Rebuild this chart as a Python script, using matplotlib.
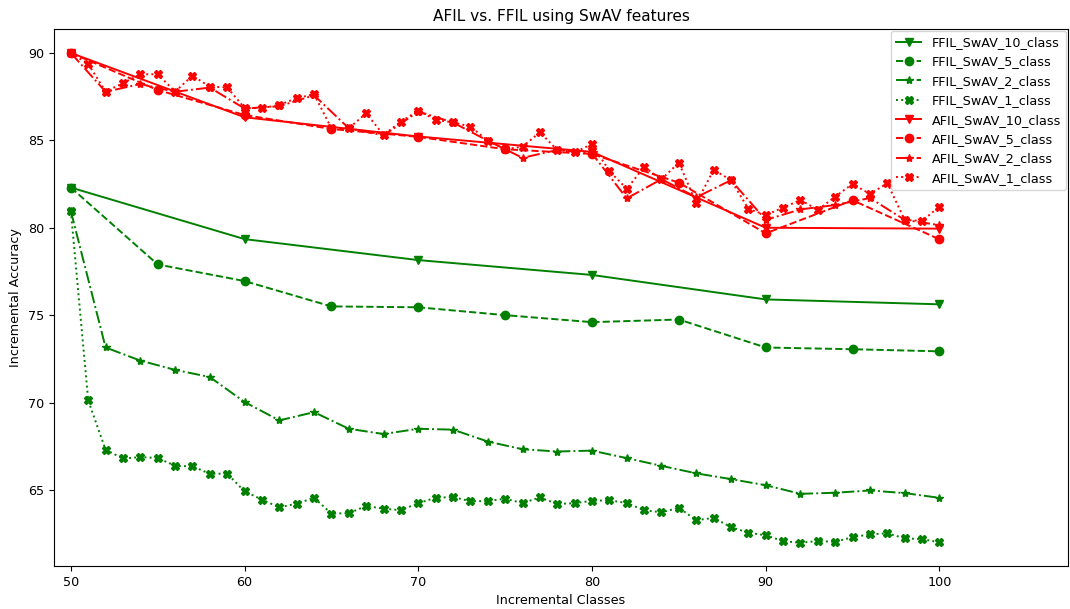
import numpy as np
import matplotlib
matplotlib.use("Agg")
import matplotlib.pyplot as plt

x10 = [50, 60, 70, 80, 90, 100]
x5 = [50, 55, 60, 65, 70, 75, 80, 85, 90, 95, 100]
x2 = list(range(50, 101, 2))
x1 = list(range(50, 101, 1))

ffil_10 = [82.3, 79.35, 78.15, 77.3, 75.9, 75.62]
ffil_5 = [82.3, 77.9, 76.95, 75.5, 75.45, 75.0, 74.6, 74.75, 73.15, 73.05, 72.93]
ffil_2 = [80.95, 73.15, 72.4, 71.87, 71.46, 70.03, 68.98, 69.45, 68.5, 68.2, 68.5, 68.45,
          67.77, 67.33, 67.2, 67.25, 66.82, 66.38, 65.95, 65.62, 65.27, 64.78, 64.84,
          64.97, 64.82, 64.55]
ffil_1 = [80.95, 70.12, 67.3, 66.8, 66.88, 66.83, 66.38, 66.35, 65.93, 65.93, 64.92,
          64.45, 64.0, 64.22, 64.55, 63.65, 63.67, 64.08, 63.93, 63.84, 64.25, 64.55,
          64.6, 64.35, 64.37, 64.5, 64.25, 64.57, 64.2, 64.24, 64.38, 64.41, 64.25,
          63.84, 63.72, 63.98, 63.27, 63.4, 62.88, 62.55, 62.41, 62.07, 61.98, 62.08,
          62.03, 62.3, 62.46, 62.52, 62.23, 62.19, 62.0]

afil_10 = [90.0, 86.32, 85.22, 84.34, 80.0, 79.95]
afil_5 = [90.0, 87.88, 86.45, 85.65, 85.2, 84.49, 84.22, 82.58, 79.68, 81.57, 79.34]
afil_2 = [90.0, 87.78, 88.22, 87.78, 88.02, 86.82, 86.95, 87.58, 85.69, 85.28, 86.65,
          86.02, 84.98, 84.0, 84.45, 84.25, 81.68, 82.78, 81.74, 82.72, 80.45, 81.05,
          81.3, 81.7, 80.45, 80.15]
afil_1 = [90.0, 89.37, 87.79, 88.27, 88.78, 88.78, 87.79, 88.7, 88.07, 88.03, 86.85,
          86.84, 87.03, 87.41, 87.64, 85.69, 85.69, 86.55, 85.31, 86.07, 86.7, 86.17,
          86.03, 85.79, 84.98, 84.49, 84.64, 85.46, 84.45, 84.32, 84.78, 83.25, 82.22,
          83.48, 82.77, 83.73, 81.4, 83.31, 82.73, 81.08, 80.73, 81.15, 81.59, 81.02,
          81.78, 82.51, 81.93, 82.55, 80.45, 80.39, 81.21]

labels = ["FFIL_SwAV_10_class", "FFIL_SwAV_5_class", "FFIL_SwAV_2_class", "FFIL_SwAV_1_class",
          "AFIL_SwAV_10_class", "AFIL_SwAV_5_class", "AFIL_SwAV_2_class", "AFIL_SwAV_1_class"]

plt.rcParams["font.size"] = 9.2

fig = plt.figure(figsize=(10.70, 6.09), dpi=100)
ax = fig.add_axes([54/1070, 1-566/609, (1068-54)/1070, (566-29)/609])

series = [
    (x10, ffil_10, "green", "-", "v", 6),
    (x5, ffil_5, "green", "--", "o", 6),
    (x2, ffil_2, "green", "-.", "*", 6),
    (x1, ffil_1, "green", ":", "X", 6),
    (x10, afil_10, "red", "-", "v", 6),
    (x5, afil_5, "red", "--", "o", 6),
    (x2, afil_2, "red", "-.", "*", 6),
    (x1, afil_1, "red", ":", "X", 6),
]
for (xs, ys, c, ls, m, ms), lab in zip(series, labels):
    ax.plot(xs, ys, color=c, linestyle=ls, marker=m, markersize=ms, linewidth=1.4, label=lab)

ax.set_xlim(49.03, 107.4)
ax.set_ylim(60.65, 91.37)
ax.set_xticks([50, 60, 70, 80, 90, 100])
ax.set_yticks([65, 70, 75, 80, 85, 90])
ax.set_title("AFIL vs. FFIL using SwAV features")
ax.set_xlabel("Incremental Classes")
ax.set_ylabel("Incremental Accuracy")
ax.legend(loc="upper right", borderaxespad=0.15)

fig.savefig("out.png", dpi=100)
